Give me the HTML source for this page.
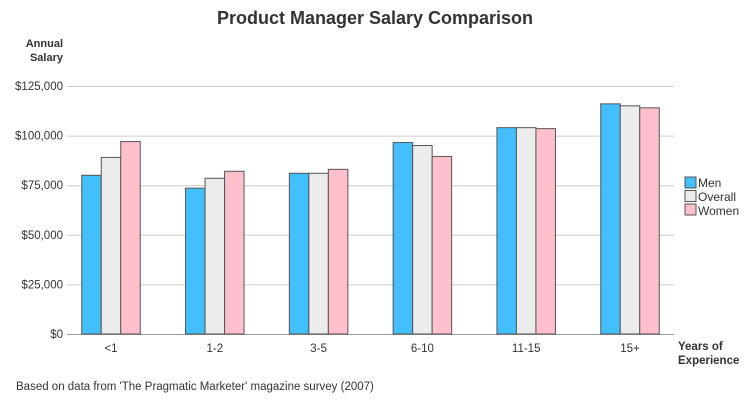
<!DOCTYPE html>
<html><head><meta charset="utf-8"><style>
body{margin:0;background:#fff;font-family:"Liberation Sans",sans-serif}
svg text{font-family:"Liberation Sans",sans-serif}
</style></head><body>
<svg id="c" width="750" height="400">
<text x="375" y="24" text-anchor="middle" font-size="18" font-weight="bold" fill="#333">Product Manager Salary Comparison</text>
<text x="63" y="47" text-anchor="end" font-size="11" font-weight="bold" fill="#333"><tspan x="63">Annual</tspan><tspan x="63" dy="14">Salary</tspan></text>
<text x="678" y="350" font-size="11.5" font-weight="bold" fill="#333"><tspan x="678">Years of</tspan><tspan x="678" dy="14">Experience</tspan></text>
<text x="16" y="390" font-size="11.5" fill="#333">Based on data from 'The Pragmatic Marketer' magazine survey (2007)</text>
<g id="grid"></g><g id="bars"></g><g id="xl"></g>
<g>
<rect x="685" y="177" width="11" height="11" fill="#42bffc" stroke="#555"/>
<text x="698" y="187" font-size="12" fill="#333">Men</text>
<rect x="685" y="190.5" width="11" height="11" fill="#ececec" stroke="#555"/>
<text x="698" y="201" font-size="12" fill="#333">Overall</text>
<rect x="685" y="204" width="11" height="11" fill="#ffc0cb" stroke="#555"/>
<text x="698" y="215" font-size="12" fill="#333">Women</text>
</g>
</svg>
<script>
const categories=["<1","1-2","3-5","6-10","11-15","15+"];
const men=[80000,73500,81000,96500,104000,116000];
const overall=[89000,78500,81000,95000,104000,115000];
const women=[97000,82000,83000,89500,103500,114000];
const yTicks=[0,25000,50000,75000,100000,125000];
const yTickLabels=["$0","$25,000","$50,000","$75,000","$100,000","$125,000"];
const NS="http://www.w3.org/2000/svg";
const y=v=>334-v*248/125000;
const xc=i=>111+i*103.8;
function mk(t,a,p){const e=document.createElementNS(NS,t);for(const k in a)e.setAttribute(k,a[k]);p.appendChild(e);return e;}
const g=document.getElementById('grid');
yTicks.forEach((v,i)=>{
 const l=mk('line',{x1:67,x2:674,y1:y(v)+0.5,y2:y(v)+0.5,stroke:v===0?'#999':'#ccc'},g);
 
 
 const t=mk('text',{x:63,y:y(v)+4,'text-anchor':'end','font-size':11.5,fill:'#333'},g);
 t.textContent=yTickLabels[i];
 
 
});
const b=document.getElementById('bars');
const series=[[men,'#42bffc','men'],[overall,'#ececec','overall'],[women,'#ffc0cb','women']];
categories.forEach((c,i)=>{
 series.forEach(([d,col,n],j)=>{
  const x=xc(i)-29.25+j*19.5;
  const r=mk('rect',{x:x,y:y(d[i]),width:19.5,height:334-y(d[i]),fill:col,stroke:'#555','stroke-width':1},b);
  
  
 });
 const t=mk('text',{x:xc(i),y:352,'text-anchor':'middle','font-size':11.5,fill:'#333'},document.getElementById('xl'));
 t.textContent=c;
 
 
});
</script>
</body></html>
